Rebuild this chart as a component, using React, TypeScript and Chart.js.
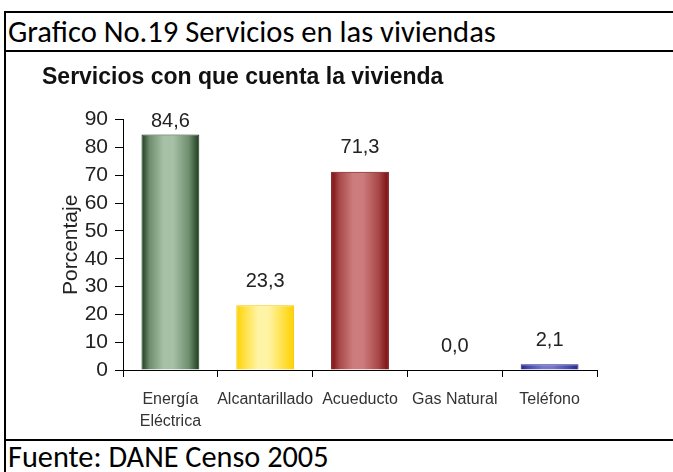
import React, { useEffect, useRef } from 'react';
import { Chart, registerables } from 'chart.js';

Chart.register(...registerables);

const categories: (string | string[])[] = [['Energía', 'Eléctrica'], 'Alcantarillado', 'Acueducto', 'Gas Natural', 'Teléfono'];
const values: number[] = [84.6, 23.3, 71.3, 0.0, 2.1];
const yMin = 0;
const yMax = 90;
const yStep = 10;

const darkColors = ['#1c3a1c', '#ffd000', '#780a0a', '#000000', '#262688'];
const midColors = ['#6e8e6e', '#ffe040', '#a84848', '#000000', '#4a4ab0'];
const lightColors = ['#a6c0a6', '#fff4a6', '#cc7c7c', '#000000', '#7676cc'];
const borderColors = ['#1a361a', '#f2c600', '#6e0808', '#000000', '#22227e'];

const chartTitle = 'Servicios con que cuenta la vivienda';
const yTitle = 'Porcentaje';
const headerText = 'Grafico No.19 Servicios en las viviendas';
const footerText = 'Fuente: DANE Censo 2005';

const BAR_PCT = 0.61;
const textFont = 'Liberation Sans, Arial, sans-serif';
const docFont = 'Calibri, Carlito, Lato, sans-serif';

export default function App() {
  const canvasRef = useRef<HTMLCanvasElement | null>(null);

  useEffect(() => {
    const canvas = canvasRef.current;
    if (!canvas) return;

    const valueLabels = {
      id: 'valueLabels',
      afterDatasetsDraw(chart: any) {
        const ctx = chart.ctx;
        const meta = chart.getDatasetMeta(0);
        ctx.save();
        ctx.font = `20px ${textFont}`;
        ctx.fillStyle = '#222';
        ctx.textAlign = 'center';
        ctx.textBaseline = 'middle';
        meta.data.forEach((el: any, i: number) => {
          const v = values[i];
          const y = Math.max(el.y - 24, chart.chartArea.top + 2);
          ctx.fillText(v.toFixed(1).replace('.', ','), el.x, y);
        });
        ctx.restore();
      },
    };

    const yTitlePlugin = {
      id: 'yTitlePlugin',
      afterDraw(chart: any) {
        const ctx = chart.ctx;
        const ys = chart.scales.y;
        const area = chart.chartArea;
        ctx.save();
        ctx.translate(ys.left + 29, (area.top + area.bottom) / 2);
        ctx.rotate(-Math.PI / 2);
        ctx.font = `21px ${textFont}`;
        ctx.fillStyle = '#222';
        ctx.textAlign = 'center';
        ctx.textBaseline = 'middle';
        ctx.fillText(yTitle, 0, 0);
        ctx.restore();
      },
    };

    const chart = new Chart(canvas, {
      type: 'bar',
      data: {
        labels: categories,
        datasets: [
          {
            data: values,
            barPercentage: BAR_PCT,
            categoryPercentage: 1,
            borderWidth: (c: any) => (values[c.dataIndex] === 0 ? 0 : 1),
            borderColor: (c: any) => borderColors[c.dataIndex] ?? '#000',
            backgroundColor: (c: any) => {
              const chartObj = c.chart;
              const i = c.dataIndex;
              const xs = chartObj.scales?.x;
              if (!chartObj.chartArea || !xs || i === undefined) return midColors[i ?? 0];
              const center = xs.getPixelForValue(i);
              const w = (xs.width / categories.length) * BAR_PCT;
              const g = chartObj.ctx.createLinearGradient(center - w / 2, 0, center + w / 2, 0);
              g.addColorStop(0, darkColors[i]);
              g.addColorStop(0.14, midColors[i]);
              g.addColorStop(0.38, lightColors[i]);
              g.addColorStop(0.55, lightColors[i]);
              g.addColorStop(0.82, midColors[i]);
              g.addColorStop(1, darkColors[i]);
              return g;
            },
          },
        ],
      },
      options: {
        responsive: false,
        animation: false,
        layout: { padding: { left: 36, right: 76, top: 0, bottom: 0 } },
        plugins: {
          legend: { display: false },
          tooltip: { enabled: false },
          title: {
            display: true,
            text: chartTitle,
            align: 'start',
            color: '#111',
            font: { family: textFont, size: 23, weight: 'bold', lineHeight: 1.2 },
            padding: { top: 12, bottom: 28 },
          },
        },
        scales: {
          x: {
            afterFit: (s: any) => { s.height = 69; },
            grid: { display: true, drawOnChartArea: false, drawTicks: true, tickLength: 7, color: '#000', offset: true },
            border: { display: true, color: '#000', width: 1 },
            ticks: {
              autoSkip: false,
              maxRotation: 0,
              minRotation: 0,
              padding: 11,
              color: '#333',
              font: { family: textFont, size: 16, lineHeight: 1.4 },
            },
          },
          y: {
            min: yMin,
            max: yMax,
            afterFit: (s: any) => { s.width = 81; },
            grid: { display: true, drawOnChartArea: false, drawTicks: true, tickLength: 8, color: '#000' },
            border: { display: true, color: '#000', width: 1 },
            ticks: {
              stepSize: yStep,
              autoSkip: false,
              padding: 7,
              color: '#222',
              font: { family: textFont, size: 21, lineHeight: 1.0 },
              callback: (v: any) => String(v),
            },
          },
        },
      },
      plugins: [valueLabels, yTitlePlugin],
    } as any);

    return () => chart.destroy();
  }, []);

  return (
    <div style={{ position: 'absolute', left: 0, top: 0, width: 673, height: 472, overflow: 'hidden', background: '#fff' }}>
      <div style={{ position: 'absolute', left: 4, top: 11, width: 669, height: 2, background: '#000' }} />
      <div style={{ position: 'absolute', left: 4, top: 11, width: 2, height: 461, background: '#000' }} />
      <div style={{ position: 'absolute', left: 4, top: 50, width: 669, height: 2, background: '#000' }} />
      <div style={{ position: 'absolute', left: 4, top: 439, width: 669, height: 2, background: '#000' }} />
      <div style={{ position: 'absolute', left: 8, top: 13, height: 37, lineHeight: '37px', fontFamily: docFont, fontSize: 30.6, color: '#000', whiteSpace: 'nowrap' }}>
        {headerText}
      </div>
      <div style={{ position: 'absolute', left: 8, top: 441, height: 31, lineHeight: '31px', fontFamily: docFont, fontSize: 30.3, color: '#000', whiteSpace: 'nowrap' }}>
        {footerText}
      </div>
      <canvas
        ref={canvasRef}
        width={667}
        height={387}
        style={{ position: 'absolute', left: 6, top: 52, width: 667, height: 387 }}
      />
    </div>
  );
}
